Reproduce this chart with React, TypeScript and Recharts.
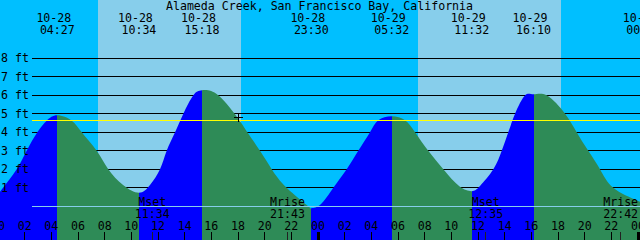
import React from 'react';
import { AreaChart, Area, XAxis, YAxis, ReferenceArea, ReferenceLine, ReferenceDot } from 'recharts';

const W = 640;
const H = 240;
const FONT = '"DejaVu Sans Mono", "Liberation Mono", monospace';
const FS = 11.6;

const NIGHT = '#00BFFF';
const DAY = '#87CEEB';
const RISE = '#0000FF';
const FALL = '#2E8B57';

const title = 'Alameda Creek, San Francisco Bay, California';

// hours since 10-28 00:00 and tide height in feet
const tideHours = [
  0.15, 1.4, 2.15, 2.95, 3.65, 4.45, 5.53, 6.28, 7.4, 8.27, 9.38, 10.567,
  11.4, 12.15, 12.65, 13.28, 13.9, 14.65, 15.3, 16.52, 18.1, 18.7, 19.65, 20.53,
  21.65, 23.27, 23.5, 24.15, 25.15, 26.15, 27.02, 27.9, 28.52, 29.533, 30.53, 31.28,
  32.27, 33.4, 34.6, 35.533, 36.15, 37.15, 37.78, 38.27, 38.78, 39.53, 40.167, 41.15,
  42.53, 43.4, 44.27, 45.15, 46.15, 48.15,
];
const tideFeet = [
  0.79, 2.0, 3.0, 4.0, 4.63, 4.92, 4.63, 4.0, 3.0, 2.0, 1.15, 0.73,
  1.15, 2.0, 3.0, 4.0, 5.0, 6.0, 6.27, 6.0, 4.65, 4.0, 3.0, 2.0,
  1.0, 0.0, -0.1, 0.07, 1.0, 2.0, 3.0, 4.0, 4.65, 4.87, 4.65, 4.0,
  3.0, 2.0, 1.08, 0.82, 1.1, 2.0, 3.0, 4.0, 5.0, 6.0, 6.05, 6.0,
  5.0, 4.0, 3.0, 2.0, 1.0, 0.25,
];

// high / low events
const eventHours = [4.45, 10.567, 15.3, 23.5, 29.533, 35.533, 40.167, 48.43];
const eventDates = ['10-28', '10-28', '10-28', '10-28', '10-29', '10-29', '10-29', '10-30'];
const eventTimes = ['04:27', '10:34', '15:18', '23:30', '05:32', '11:32', '16:10', '00:26'];

// moon events
const moonHours = [11.567, 21.717, 36.583, 46.7];
const moonNames = ['Mset', 'Mrise', 'Mset', 'Mrise'];
const moonTimes = ['11:34', '21:43', '12:35', '22:42'];

// daylight
const sunrise = [7.5, 31.5];
const sunset = [18.225, 42.225];

const hourTicks = [0, 2, 4, 6, 8, 10, 12, 14, 16, 18, 20, 22, 24, 26, 28, 30, 32, 34, 36, 38, 40, 42, 44, 46, 48];
const feetTicks = [1, 2, 3, 4, 5, 6, 7, 8];
const markLevel = 4.65;
const nowHour = 18.02;
const nowFeet = 4.8;

const X0 = 0.15;
const X1 = 48.15;
const Y0 = -1.82;
const Y1 = 11.15;
const lineStart = 2.55;

const data = tideHours.map((h, i) => ({ h, ft: tideFeet[i] }));

const allTicks = [...hourTicks, ...moonHours, ...eventHours].sort((a, b) => a - b);

const txt = { fontFamily: FONT, fontSize: FS, fill: '#000' };

function TimeTick(props: any) {
  const { x, payload } = props;
  const v = payload.value;
  const e = eventHours.indexOf(v);
  if (e >= 0) {
    return (
      <g>
        <text x={x - 3.5} y={21.7} textAnchor="middle" {...txt}>{eventDates[e]}</text>
        <text x={x} y={34} textAnchor="middle" {...txt}>{eventTimes[e]}</text>
      </g>
    );
  }
  const m = moonHours.indexOf(v);
  if (m >= 0) {
    return (
      <g>
        <line x1={x} x2={x} y1={232} y2={H} stroke="#222" shapeRendering="crispEdges" />
        <text x={x} y={206} textAnchor="middle" {...txt}>{moonNames[m]}</text>
        <text x={x} y={217.7} textAnchor="middle" {...txt}>{moonTimes[m]}</text>
      </g>
    );
  }
  const midnight = v % 24 === 0;
  const label = String(v % 24).padStart(2, '0');
  return (
    <g>
      <line x1={x} x2={x} y1={232} y2={H} stroke="#000" strokeWidth={midnight ? 3 : 1} shapeRendering="crispEdges" />
      <text x={x} y={230} textAnchor="middle" {...txt}>{label}</text>
    </g>
  );
}

function FeetTick(props: any) {
  const { y, payload } = props;
  return (
    <text x={1} y={y + 4} textAnchor="start" {...txt}>{`${payload.value} ft`}</text>
  );
}

function Plus(props: any) {
  const { cx, cy } = props;
  return (
    <g stroke="#000" shapeRendering="crispEdges">
      <line x1={cx - 4} x2={cx + 5} y1={cy} y2={cy} />
      <line x1={cx} x2={cx} y1={cy - 4} y2={cy + 4} />
    </g>
  );
}

export default function App() {
  const frac = (h: number) => (h - X0) / (X1 - X0);
  const ext = eventHours.filter((h) => h > X0 && h < X1);
  const stops: React.ReactElement[] = [];
  let prev = 0;
  ext.forEach((h, i) => {
    const c = i % 2 === 0 ? RISE : FALL;
    stops.push(<stop key={`a${i}`} offset={prev} stopColor={c} />);
    stops.push(<stop key={`b${i}`} offset={frac(h)} stopColor={c} />);
    prev = frac(h);
  });
  const lastColor = ext.length % 2 === 0 ? RISE : FALL;
  stops.push(<stop key="la" offset={prev} stopColor={lastColor} />);
  stops.push(<stop key="lb" offset={1} stopColor={lastColor} />);

  return (
    <div style={{ width: W, height: H }}>
      <style>{'body{margin:0}'}</style>
      <AreaChart
        width={W}
        height={H}
        data={data}
        margin={{ top: 0, right: 0, bottom: 0, left: 0 }}
        style={{ background: NIGHT }}
      >
        <defs>
          <linearGradient id="tideFill" gradientUnits="userSpaceOnUse" x1={0} y1={0} x2={W} y2={0}>
            {stops}
          </linearGradient>
        </defs>
        {sunrise.map((s, i) => (
          <ReferenceArea key={`d${i}`} x1={s} x2={sunset[i]} fill={DAY} fillOpacity={1} stroke="none" zIndex={-200} />
        ))}
        {feetTicks.map((f) => (
          <ReferenceLine
            key={`f${f}`}
            segment={[{ x: lineStart, y: f }, { x: X1, y: f }]}
            stroke="#000"
            zIndex={-150}
            shapeRendering="crispEdges"
          />
        ))}
        <Area
          type="natural"
          dataKey="ft"
          stroke="none"
          fill="url(#tideFill)"
          fillOpacity={1}
          baseValue="dataMin"
          dot={false}
          activeDot={false}
          isAnimationActive={false}
        />
        <ReferenceLine
          segment={[{ x: lineStart, y: markLevel }, { x: X1, y: markLevel }]}
          stroke="#FFFF00"
          zIndex={150}
          shapeRendering="crispEdges"
        />
        <ReferenceLine
          segment={[{ x: lineStart, y: 0 }, { x: X1, y: 0 }]}
          stroke={DAY}
          zIndex={150}
          shapeRendering="crispEdges"
        />
        <ReferenceDot x={nowHour} y={nowFeet} zIndex={300} shape={(p: any) => <Plus {...p} />} />
        <XAxis
          type="number"
          dataKey="h"
          domain={[X0, X1]}
          allowDataOverflow
          ticks={allTicks}
          interval={0}
          mirror
          axisLine={false}
          tickLine={false}
          tick={(p: any) => <TimeTick {...p} />}
        />
        <YAxis
          type="number"
          domain={[Y0, Y1]}
          allowDataOverflow
          ticks={feetTicks}
          interval={0}
          mirror
          axisLine={false}
          tickLine={false}
          tick={(p: any) => <FeetTick {...p} />}
        />
        <text x={319.5} y={10} textAnchor="middle" {...txt}>{title}</text>
      </AreaChart>
    </div>
  );
}
